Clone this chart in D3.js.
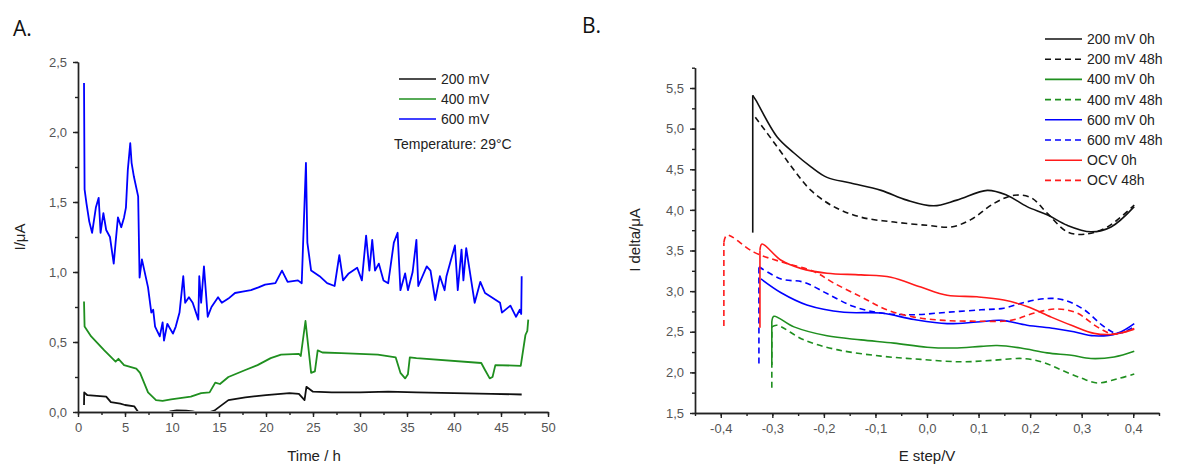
<!DOCTYPE html>
<html>
<head>
<meta charset="utf-8">
<script src="https://cdn.jsdelivr.net/npm/d3@7"></script>
<style>
  body { margin: 0; background: #fff; }
  svg { font-family: "Liberation Sans", Arial, sans-serif; }
  .tick text { fill: #555; font-size: 13px; }
  .axis path, .axis line { stroke: #222; stroke-width: 1.4; }
  .title { font-size: 15px; fill: #222; }
  .legend { font-size: 14px; fill: #222; }
  .panel { font-size: 21px; fill: #111; font-family: "Open Sans", sans-serif; }
</style>
</head>
<body>
<svg id="chart" width="1178" height="465"></svg>
<script>
// Panel A: current vs time (h, µA)
const timeBlack = [0.64, 0.66, 1.0, 2.0, 3.0, 3.5, 4.5, 5.0, 6.0, 6.4, 6.6, 7.2, 8.5, 9.4, 9.8, 10.5, 11.5, 12.2, 13.0, 13.8, 14.5, 15.0, 16.0, 17.8, 20.0, 22.5, 23.5, 24.1, 24.3, 25.0, 27.0, 30.0, 33.0, 36.0, 40.0, 44.0, 47.2];
const valBlack  = [0.05, 0.14, 0.12, 0.115, 0.11, 0.07, 0.06, 0.05, 0.04, 0.0, -0.01, -0.05, -0.05, -0.02, 0.005, 0.012, 0.01, 0.005, -0.01, -0.005, 0.01, 0.035, 0.085, 0.105, 0.12, 0.135, 0.13, 0.085, 0.18, 0.145, 0.14, 0.14, 0.145, 0.14, 0.135, 0.13, 0.125];

const timeGreen = [0.64, 0.7, 1.4, 2.8, 4.0, 4.3, 4.9, 6.2, 6.6, 7.45, 8.3, 9.0, 9.9, 12.0, 13.1, 14.0, 14.6, 15.1, 16.0, 17.8, 19.1, 20.5, 21.6, 23.5, 23.7, 24.2, 24.8, 25.2, 25.5, 26.0, 28.0, 31.9, 33.8, 34.3, 34.8, 35.1, 35.3, 36.0, 42.9, 43.3, 43.8, 44.1, 44.4, 47.1, 47.6, 47.8, 47.9];
const valGreen  = [0.79, 0.61, 0.54, 0.44, 0.36, 0.38, 0.335, 0.31, 0.28, 0.14, 0.085, 0.08, 0.09, 0.11, 0.135, 0.14, 0.21, 0.20, 0.25, 0.30, 0.335, 0.385, 0.41, 0.415, 0.40, 0.65, 0.28, 0.29, 0.44, 0.425, 0.42, 0.41, 0.39, 0.28, 0.24, 0.27, 0.39, 0.385, 0.35, 0.30, 0.24, 0.25, 0.335, 0.33, 0.55, 0.58, 0.66];

const timeBlue = [0.64, 0.7, 0.9, 1.2, 1.5, 1.9, 2.2, 2.4, 2.7, 3.0, 3.4, 3.8, 4.0, 4.25, 4.6, 4.9, 5.1, 5.3, 5.56, 5.7, 5.95, 6.4, 6.55, 6.8, 7.45, 7.8, 8.0, 8.2, 8.7, 9.0, 9.15, 9.5, 10.1, 10.4, 10.8, 11.2, 11.4, 11.8, 12.2, 12.8, 12.9, 13.1, 13.4, 13.8, 14.2, 14.9, 15.3, 16.0, 16.7, 17.5, 18.4, 19.2, 19.9, 21.0, 21.7, 22.3, 23.4, 23.8, 24.25, 24.4, 24.8, 25.7, 26.5, 27.3, 27.8, 28.2, 28.8, 29.7, 30.2, 30.65, 31.0, 31.3, 31.6, 32.0, 32.5, 33.0, 33.6, 34.0, 34.3, 34.8, 35.1, 35.6, 36.0, 36.2, 37.1, 37.5, 38.0, 38.5, 39.0, 39.2, 40.1, 40.4, 40.8, 41.0, 41.3, 42.2, 42.8, 43.3, 44.0, 44.9, 45.1, 46.0, 46.6, 47.0, 47.15, 47.2];
const valBlue  = [2.35, 1.59, 1.49, 1.36, 1.28, 1.46, 1.53, 1.28, 1.42, 1.30, 1.25, 1.06, 1.21, 1.39, 1.32, 1.39, 1.46, 1.73, 1.92, 1.78, 1.68, 1.54, 0.96, 1.09, 0.89, 0.71, 0.73, 0.61, 0.54, 0.64, 0.51, 0.63, 0.56, 0.61, 0.71, 0.97, 0.78, 0.82, 0.78, 0.66, 0.97, 0.78, 1.04, 0.68, 0.75, 0.82, 0.78, 0.81, 0.85, 0.86, 0.87, 0.89, 0.91, 0.92, 1.01, 0.93, 0.94, 0.92, 1.78, 1.21, 1.01, 0.97, 0.92, 0.90, 1.12, 0.94, 0.99, 1.03, 0.94, 1.26, 1.01, 1.23, 1.01, 1.06, 0.94, 0.92, 1.21, 1.28, 0.87, 0.99, 0.87, 1.00, 1.23, 0.90, 1.04, 1.01, 0.80, 0.97, 0.87, 0.97, 1.19, 0.87, 1.16, 0.94, 1.17, 0.78, 0.93, 0.85, 0.82, 0.78, 0.71, 0.76, 0.68, 0.73, 0.70, 0.97];

const seriesA = [
  { name: '200 mV', color: '#111', t: timeBlack, v: valBlack },
  { name: '400 mV', color: '#1f8f1f', t: timeGreen, v: valGreen },
  { name: '600 mV', color: '#0000ff', t: timeBlue, v: valBlue }
];

// Panel B: differential pulse curves (E step / V, I delta / µA)
const eBlack0  = [-0.338, -0.338, -0.332, -0.291, -0.258, -0.225, -0.194, -0.148, -0.089, -0.039, 0.013, 0.058, 0.117, 0.155, 0.194, 0.233, 0.272, 0.318, 0.357, 0.402];
const iBlack0  = [3.72, 5.41, 5.35, 4.90, 4.70, 4.53, 4.40, 4.33, 4.24, 4.12, 4.05, 4.12, 4.24, 4.18, 4.04, 3.94, 3.81, 3.73, 3.79, 4.04];
const eBlack48 = [-0.333, -0.291, -0.258, -0.225, -0.181, -0.128, -0.064, 0.0, 0.047, 0.085, 0.130, 0.169, 0.202, 0.233, 0.272, 0.305, 0.350, 0.402];
const iBlack48 = [5.14, 4.78, 4.49, 4.24, 4.04, 3.91, 3.85, 3.81, 3.79, 3.88, 4.08, 4.18, 4.15, 3.96, 3.73, 3.70, 3.79, 4.06];
const eGreen0  = [-0.301, -0.301, -0.297, -0.258, -0.194, -0.128, -0.064, 0.0, 0.052, 0.105, 0.136, 0.182, 0.233, 0.280, 0.318, 0.363, 0.402];
const iGreen0  = [2.09, 2.62, 2.69, 2.56, 2.45, 2.40, 2.36, 2.31, 2.30, 2.32, 2.33, 2.30, 2.24, 2.21, 2.17, 2.19, 2.26];
const eGreen48 = [-0.301, -0.301, -0.291, -0.239, -0.175, -0.089, -0.012, 0.066, 0.130, 0.188, 0.227, 0.260, 0.299, 0.330, 0.369, 0.402];
const iGreen48 = [1.81, 2.56, 2.58, 2.40, 2.28, 2.20, 2.16, 2.13, 2.15, 2.17, 2.12, 2.03, 1.93, 1.87, 1.92, 1.98];
const eBlue0   = [-0.322, -0.283, -0.233, -0.161, -0.089, -0.025, 0.039, 0.097, 0.144, 0.194, 0.247, 0.285, 0.324, 0.369, 0.402];
const iBlue0   = [3.15, 2.98, 2.83, 2.74, 2.73, 2.65, 2.60, 2.62, 2.64, 2.58, 2.54, 2.50, 2.45, 2.48, 2.60];
const eBlue48  = [-0.326, -0.326, -0.283, -0.239, -0.194, -0.142, -0.089, -0.025, 0.039, 0.105, 0.149, 0.188, 0.233, 0.266, 0.305, 0.344, 0.369, 0.402];
const iBlue48  = [2.11, 3.30, 3.15, 3.11, 2.97, 2.81, 2.73, 2.71, 2.74, 2.77, 2.79, 2.86, 2.91, 2.89, 2.77, 2.56, 2.48, 2.56];
const eRed0    = [-0.324, -0.324, -0.320, -0.283, -0.245, -0.194, -0.128, -0.070, -0.012, 0.039, 0.097, 0.149, 0.194, 0.241, 0.280, 0.324, 0.363, 0.402];
const iRed0    = [2.55, 3.50, 3.58, 3.38, 3.28, 3.22, 3.20, 3.17, 3.05, 2.95, 2.93, 2.89, 2.81, 2.68, 2.58, 2.48, 2.47, 2.53];
const eRed48   = [-0.394, -0.394, -0.388, -0.336, -0.283, -0.219, -0.181, -0.128, -0.078, -0.025, 0.033, 0.097, 0.163, 0.208, 0.252, 0.291, 0.330, 0.363, 0.402];
const iRed48   = [2.57, 3.60, 3.69, 3.48, 3.36, 3.24, 3.10, 2.93, 2.77, 2.68, 2.64, 2.63, 2.64, 2.73, 2.78, 2.73, 2.56, 2.47, 2.54];

const seriesB = [
  { name: '200 mV 0h',  color: '#111',    dash: null, e: eBlack0,  i: iBlack0 },
  { name: '200 mV 48h', color: '#111',    dash: '6,4', e: eBlack48, i: iBlack48 },
  { name: '400 mV 0h',  color: '#1f8f1f', dash: null, e: eGreen0,  i: iGreen0 },
  { name: '400 mV 48h', color: '#1f8f1f', dash: '6,4', e: eGreen48, i: iGreen48 },
  { name: '600 mV 0h',  color: '#0000ff', dash: null, e: eBlue0,   i: iBlue0 },
  { name: '600 mV 48h', color: '#0000ff', dash: '6,4', e: eBlue48,  i: iBlue48 },
  { name: 'OCV 0h',     color: '#ff1a1a', dash: null, e: eRed0,    i: iRed0 },
  { name: 'OCV 48h',    color: '#ff1a1a', dash: '6,4', e: eRed48,   i: iRed48 }
];

const comma = f => v => d3.format(f)(v).replace('.', ',').replace('\u2212', '-');

const chart = d3.select('#chart');

// Draws a left/bottom axis pair with major + minor ticks, Origin style.
function drawAxes(x, y, xMajor, xMinor, yMajor, yMinor, xFmt, yFmt) {
  const [x0] = x.range();
  const [y0] = y.range();
  chart.append('g').attr('class', 'axis')
    .attr('transform', `translate(0,${y0})`)
    .call(d3.axisBottom(x).tickValues(xMinor).tickSize(3).tickFormat('').tickSizeOuter(0));
  chart.append('g').attr('class', 'axis')
    .attr('transform', `translate(0,${y0})`)
    .call(d3.axisBottom(x).tickValues(xMajor).tickSize(5).tickPadding(6).tickFormat(xFmt).tickSizeOuter(0));
  chart.append('g').attr('class', 'axis')
    .attr('transform', `translate(${x0},0)`)
    .call(d3.axisLeft(y).tickValues(yMinor).tickSize(3).tickFormat('').tickSizeOuter(0));
  chart.append('g').attr('class', 'axis')
    .attr('transform', `translate(${x0},0)`)
    .call(d3.axisLeft(y).tickValues(yMajor).tickSize(5).tickPadding(6).tickFormat(yFmt).tickSizeOuter(0));
}

// ---- Panel A
const xA = d3.scaleLinear().domain([0, 50]).range([78, 548]);
const yA = d3.scaleLinear().domain([0, 2.5]).range([412, 62]);
drawAxes(xA, yA,
  d3.range(0, 51, 5), d3.range(0, 50.1, 2.5),
  d3.range(0, 2.51, 0.5), d3.range(0, 2.51, 0.25),
  d3.format('d'), comma('.1f'));

chart.append('clipPath').attr('id', 'clipA')
  .append('rect').attr('x', 79).attr('y', 40).attr('width', 470).attr('height', 371);

const lineA = d3.line().x(d => xA(d[0])).y(d => yA(d[1]));
seriesA.forEach(s => {
  chart.append('path')
    .attr('clip-path', 'url(#clipA)')
    .attr('d', lineA(d3.zip(s.t, s.v)))
    .attr('fill', 'none').attr('stroke', s.color).attr('stroke-width', 1.8)
    .attr('stroke-linejoin', 'round');
});

const legA = chart.append('g');
seriesA.forEach((s, k) => {
  const yy = 79 + k * 20;
  legA.append('line').attr('x1', 399).attr('x2', 436).attr('y1', yy).attr('y2', yy)
    .attr('stroke', s.color).attr('stroke-width', 1.6);
  legA.append('text').attr('class', 'legend').attr('x', 441).attr('y', yy + 5).text(s.name);
});
legA.append('text').attr('class', 'legend').attr('x', 394).attr('y', 149).text('Temperature: 29°C');

chart.append('text').attr('class', 'title').attr('text-anchor', 'middle')
  .attr('x', 314).attr('y', 461).text('Time / h');
chart.append('text').attr('class', 'title').attr('text-anchor', 'middle')
  .attr('transform', 'translate(25,237) rotate(-90)').text('I/μA');
chart.append('text').attr('class', 'panel').attr('x', 13).attr('y', 36).text('A.');

// ---- Panel B
const xB = d3.scaleLinear().domain([-0.45, 0.45]).range([695, 1159]);
const yB = d3.scaleLinear().domain([1.5, 5.75]).range([413, 67.7]);
drawAxes(xB, yB,
  d3.range(-4, 5).map(d => d / 10), d3.range(-9, 10).map(d => d / 20),
  d3.range(3, 12).map(d => d / 2), d3.range(6, 24).map(d => d / 4),
  comma('.1f'), comma('.1f'));

// The vertical rise at the start of a scan is drawn straight, the rest smoothed.
const riseB = d3.line().x(d => xB(d[0])).y(d => yB(d[1]));
const curveB = d3.line().x(d => xB(d[0])).y(d => yB(d[1])).curve(d3.curveCatmullRom.alpha(0.5));
seriesB.forEach(s => {
  const pts = d3.zip(s.e, s.i);
  const split = pts.length > 1 && pts[0][0] === pts[1][0] ? 1 : 0;
  const g = chart.append('g').attr('fill', 'none').attr('stroke', s.color)
    .attr('stroke-width', 1.6).attr('stroke-dasharray', s.dash);
  if (split) g.append('path').attr('d', riseB(pts.slice(0, 2)));
  g.append('path').attr('d', curveB(pts.slice(split)));
});

const legB = chart.append('g');
seriesB.forEach((s, k) => {
  const yy = 39 + k * 20.2;
  legB.append('line').attr('x1', 1045).attr('x2', 1082).attr('y1', yy).attr('y2', yy)
    .attr('stroke', s.color).attr('stroke-width', 1.6).attr('stroke-dasharray', s.dash);
  legB.append('text').attr('class', 'legend').attr('x', 1087).attr('y', yy + 5).text(s.name);
});

chart.append('text').attr('class', 'title').attr('text-anchor', 'middle')
  .attr('x', 927).attr('y', 461).text('E step/V');
chart.append('text').attr('class', 'title').attr('text-anchor', 'middle')
  .attr('transform', 'translate(640,240) rotate(-90)').text('I delta/μA');
chart.append('text').attr('class', 'panel').attr('x', 582).attr('y', 33).text('B.');
</script>
</body>
</html>
